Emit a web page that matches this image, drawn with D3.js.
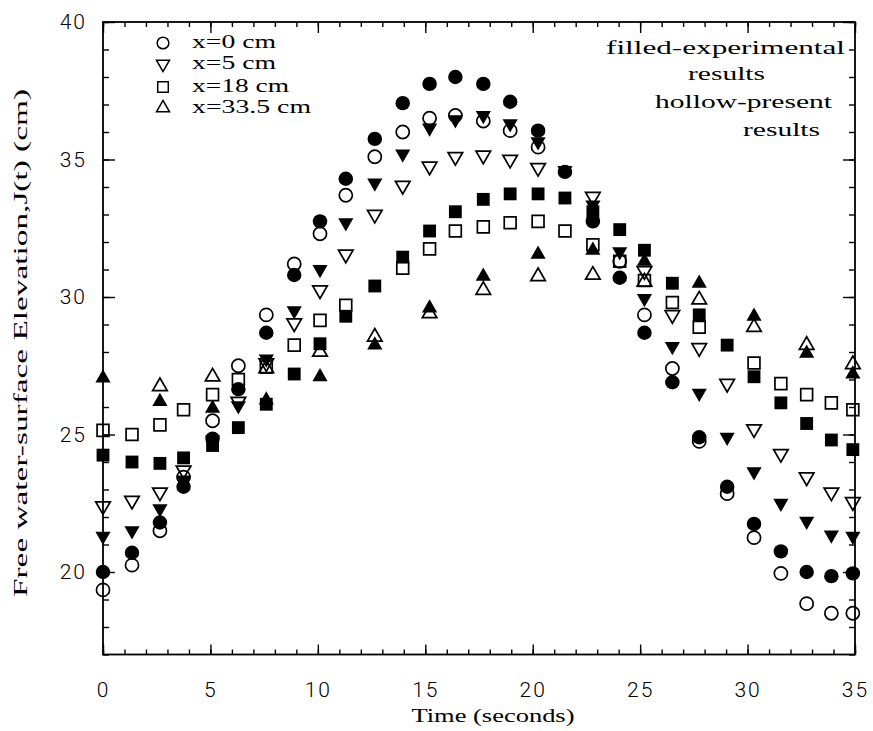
<!DOCTYPE html>
<html>
<head>
<meta charset="utf-8">
<script src="https://cdn.jsdelivr.net/npm/d3@7"></script>
<style>
  body { margin: 0; background: #fff; }
</style>
</head>
<body>
<div id="my_dataviz"></div>
<script>
// sample times (seconds), shared by every series
const times = [0, 1.35, 2.65, 3.75, 5.1, 6.3, 7.6, 8.9, 10.1, 11.3, 12.65, 13.95, 15.2, 16.4,
  17.7, 18.95, 20.25, 21.5, 22.8, 24.05, 25.2, 26.5, 27.75, 29.05, 30.3, 31.55, 32.75, 33.9, 34.9];

// filled = experimental, hollow = present results (cm); null = not visible
const exp0 = [20.0, 20.7, 21.8, 23.1, 24.85, 26.65, 28.7, 30.8, 32.75, 34.3, 35.75, 37.05, 37.75, 38.0,
  37.75, 37.1, 36.05, 34.55, 32.75, 30.7, 28.7, 26.9, 24.9, 23.1, 21.75, 20.75, 20.0, 19.85, 19.95];
const pre0 = [19.35, 20.25, 21.5, 23.45, 25.5, 27.5, 29.35, 31.2, 32.3, 33.7, 35.1, 36.0, 36.5, 36.6,
  36.4, 36.05, 35.45, null, null, 31.3, 29.35, 27.4, 24.75, 22.85, 21.25, 19.95, 18.85, 18.5, 18.5];
const exp5 = [21.3, 21.5, 22.3, 23.35, 24.8, 26.05, 27.75, 29.5, 31.0, 32.7, 34.15, 35.2, 36.15, 36.45,
  36.6, 36.3, 35.65, 34.6, 33.35, 31.65, 29.95, 28.2, 26.5, 24.9, 23.65, 22.5, 21.85, 21.35, 21.3];
const pre5 = [22.4, 22.6, 22.9, 23.7, null, 26.2, 27.6, 29.05, 30.25, 31.55, 33.0, 34.05, 34.75, 35.1,
  35.15, 35.0, 34.7, null, 33.65, null, 30.95, 29.35, 28.15, 26.85, 25.2, 24.3, 23.45, 22.9, 22.55];
const exp18 = [24.25, 24.0, 23.95, 24.15, 24.6, 25.25, 26.1, 27.2, 28.3, 29.3, 30.4, 31.45, 32.4, 33.1,
  33.55, 33.75, 33.75, 33.6, 33.1, 32.45, 31.7, 30.5, 29.35, 28.25, 27.1, 26.15, 25.4, 24.8, 24.45];
const pre18 = [25.15, 25.0, 25.35, 25.9, 26.45, 27.0, 27.45, 28.25, 29.15, 29.7, null, 31.05, 31.75, 32.4,
  32.55, 32.7, 32.75, 32.4, 31.9, 31.3, 30.6, 29.8, 28.9, null, 27.6, 26.85, 26.45, 26.15, 25.9];
const exp335 = [27.05, null, 26.2, null, 25.95, null, 26.25, null, 27.1, null, 28.25, null, 29.6, null,
  30.75, null, 31.55, null, 31.7, null, 31.3, null, 30.5, null, 29.3, null, 27.95, null, 27.2];
const pre335 = [null, null, 26.75, null, 27.1, null, 27.4, null, 28.0, null, 28.55, null, 29.4, null,
  30.25, null, 30.75, null, 30.8, null, 30.55, null, 29.9, null, 28.9, null, 28.25, null, 27.55];

const legendLabels = ["x=0 cm", "x=5 cm", "x=18 cm", "x=33.5 cm"];
const xMajor = [0, 5, 10, 15, 20, 25, 30, 35];
const yMajor = [20, 25, 30, 35, 40];

const margin = { top: 22, right: 18, bottom: 76.5, left: 103 },
    width = 873 - margin.left - margin.right,
    height = 731 - margin.top - margin.bottom;

const svg = d3.select("#my_dataviz")
    .append("svg")
    .attr("width", 873)
    .attr("height", 731)
    .append("g")
    .attr("transform", `translate(${margin.left}, ${margin.top})`);

const x = d3.scaleLinear().domain([0, 35]).range([0, width]);
const y = d3.scaleLinear().domain([17, 40]).range([height, 0]);

const serif = "'Liberation Serif', 'DejaVu Serif', serif";
const numFont = "Roboto, 'DejaVu Sans', sans-serif";

// frame
svg.append("rect")
    .attr("width", width).attr("height", height)
    .attr("fill", "none").attr("stroke", "#000").attr("stroke-width", 1.8);

// ticks, all pointing inward
function ticks(axis, pos) {
    const g = svg.append("g").attr("transform", pos).call(axis);
    g.select(".domain").remove();
    g.selectAll("line").attr("stroke", "#000").attr("stroke-width", 1.4);
    return g;
}
const minorX = d3.range(0, 36), minorY = d3.range(17, 41);

ticks(d3.axisBottom(x).tickValues(minorX).tickSize(-5).tickFormat(""), `translate(0,${height})`);
ticks(d3.axisTop(x).tickValues(minorX).tickSize(-5).tickFormat(""), "translate(0,0)");
ticks(d3.axisTop(x).tickValues(xMajor).tickSize(-11).tickFormat(""), "translate(0,0)");
ticks(d3.axisLeft(y).tickValues(minorY).tickSize(-6).tickFormat(""), "translate(0,0)");
ticks(d3.axisRight(y).tickValues(minorY).tickSize(-6).tickFormat(""), `translate(${width},0)`);
ticks(d3.axisRight(y).tickValues(yMajor).tickSize(-12).tickFormat(""), `translate(${width},0)`);

const xa = ticks(d3.axisBottom(x).tickValues(xMajor).tickSize(-10).tickPadding(28), `translate(0,${height})`);
xa.selectAll("text")
    .style("font-family", numFont).style("font-weight", 300)
    .style("font-size", "21px").style("letter-spacing", "2px")
    .attr("fill", "#000");

const ya = ticks(d3.axisLeft(y).tickValues(yMajor).tickSize(-12).tickPadding(16), "translate(0,0)");
ya.selectAll("text")
    .style("font-family", numFont).style("font-weight", 300)
    .style("font-size", "21px").style("letter-spacing", "2px")
    .attr("fill", "#000");

// axis titles
svg.append("text")
    .attr("x", 493 - margin.left).attr("y", 722 - margin.top)
    .attr("text-anchor", "middle")
    .attr("textLength", 163).attr("lengthAdjust", "spacingAndGlyphs")
    .style("font-family", serif).style("font-size", "18px")
    .text("Time (seconds)");

svg.append("text")
    .attr("transform", `translate(${27 - margin.left}, ${343 - margin.top}) rotate(-90)`)
    .attr("text-anchor", "middle")
    .attr("textLength", 508).attr("lengthAdjust", "spacingAndGlyphs")
    .style("font-family", serif).style("font-size", "18px")
    .text("Free water-surface Elevation,J(t) (cm)");

// markers
const triDown = { draw(ctx, size) { const h = Math.sqrt(size / (Math.sqrt(3) * 3));
    ctx.moveTo(0, 2 * h); ctx.lineTo(-Math.sqrt(3) * h, -h); ctx.lineTo(Math.sqrt(3) * h, -h); ctx.closePath(); } };

const shapes = [
    { type: d3.symbolCircle, hollow: 135, solid: 165 },
    { type: triDown, hollow: 92, solid: 100 },
    { type: d3.symbolSquare, hollow: 140, solid: 165 },
    { type: d3.symbolTriangle, hollow: 92, solid: 100 }
];
const present = [pre0, pre5, pre18, pre335];
const experimental = [exp0, exp5, exp18, exp335];

present.forEach((vals, i) => {
    svg.selectAll(null)
        .data(times.map((t, j) => ({ t, v: vals[j] })).filter(d => d.v !== null))
        .join("path")
        .attr("transform", d => `translate(${x(d.t)},${y(d.v)})`)
        .attr("d", d3.symbol().type(shapes[i].type).size(shapes[i].hollow))
        .attr("fill", "none").attr("stroke", "#000").attr("stroke-width", 1.7);
});
experimental.forEach((vals, i) => {
    svg.selectAll(null)
        .data(times.map((t, j) => ({ t, v: vals[j] })).filter(d => d.v !== null))
        .join("path")
        .attr("transform", d => `translate(${x(d.t)},${y(d.v)})`)
        .attr("d", d3.symbol().type(shapes[i].type).size(shapes[i].solid))
        .attr("fill", "#000");
});

// legend
const legendW = [84, 84, 97, 119];
const legend = svg.append("g").attr("transform", `translate(${-margin.left}, ${-margin.top})`);
legendLabels.forEach((lab, i) => {
    const cy = [43, 64, 87, 108][i];
    legend.append("path")
        .attr("transform", `translate(163,${cy})`)
        .attr("d", d3.symbol().type(shapes[i].type).size(shapes[i].hollow * 0.8))
        .attr("fill", "none").attr("stroke", "#000").attr("stroke-width", 1.5);
    legend.append("text")
        .attr("x", 192).attr("y", cy + 5)
        .attr("textLength", legendW[i]).attr("lengthAdjust", "spacingAndGlyphs")
        .style("font-family", serif).style("font-size", "19px")
        .text(lab);
});

// note on marker fill
const notes = [
    { text: "filled-experimental", x: 606, y: 54, w: 239 },
    { text: "results", x: 688, y: 80, w: 77 },
    { text: "hollow-present", x: 655, y: 108, w: 177 },
    { text: "results", x: 743, y: 136, w: 77 }
];
notes.forEach(n => {
    legend.append("text")
        .attr("x", n.x).attr("y", n.y)
        .attr("textLength", n.w).attr("lengthAdjust", "spacingAndGlyphs")
        .style("font-family", serif).style("font-size", "19px")
        .text(n.text);
});
</script>
</body>
</html>
